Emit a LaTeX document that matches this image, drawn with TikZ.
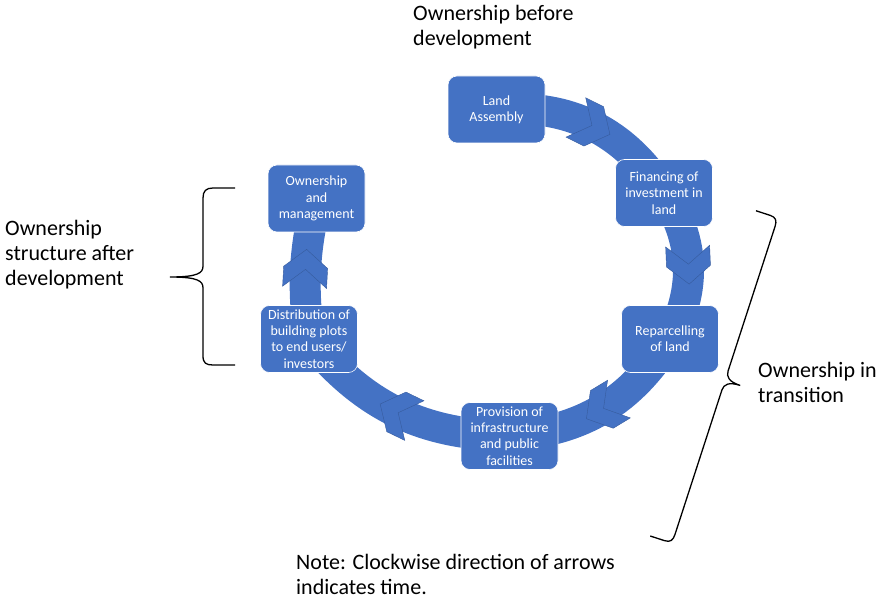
\documentclass[tikz,border=0pt]{standalone}
\usepackage{fontspec}
\setmainfont{Carlito}
\usetikzlibrary{backgrounds,decorations.markings}
\definecolor{ringblue}{RGB}{68,114,196}

\begin{document}
\begin{tikzpicture}[x=1pt, y=1pt,
    stage/.style={rectangle, rounded corners=9pt, fill=ringblue, draw=white, line width=0.6pt,
        minimum width=97pt, minimum height=67pt, inner sep=1pt, text=white, align=center,
        font=\fontsize{14}{16.3}\selectfont},
    chevron/.style={fill=ringblue, draw=ringblue!80!black, line width=0.4pt, line join=miter},
    band/.style={draw=ringblue, line width=31pt, postaction={decorate},
        decoration={markings, mark=at position 0.5 with
            {\filldraw[chevron] (-19,22) -- (1,22) -- (19,0) -- (1,-22) -- (-19,-22) -- (-1,0) -- cycle;}}},
    remark/.style={anchor=north west, inner sep=0pt, align=left, font=\fontsize{22}{25}\selectfont},
    curly/.style={draw=black, line width=1.3pt}]
    \useasboundingbox (0,0) rectangle (877,-601);

    % Stages
    \node[stage] (land)  at (496.5,-109.5) {Land\\Assembly};
    \node[stage] (fin)   at (664,-193) {Financing of\\investment in\\land};
    \node[stage] (repar) at (670,-339) {Reparcelling\\of land};
    \node[stage] (prov)  at (509.5,-436) {Provision of\\infrastructure\\and public\\facilities};
    \node[stage] (distr) at (309,-339) {Distribution of\\building plots\\to end users/\\investors};
    \node[stage] (owner) at (316.5,-198.5) {Ownership\\and\\management};

    % Ring, clockwise
    \begin{scope}[on background layer]
        \draw[band] (land.center) to[bend left=31] (fin.center);
        \draw[band] (fin.center) to[bend left=30] (repar.center);
        \draw[band] (repar.center) to[bend left=27] (prov.center);
        \draw[band] (prov.center) to[bend left=25] (distr.center);
        \draw[band] (distr.center) to[bend left=10] (owner.center);
    \end{scope}

    % Texts
    \node[remark] (before) at (413,-5.5) {Ownership before\\development};
    \node[remark] (after) at (5,-220) {Ownership\\structure after\\development};
    \node[remark] (transit) at (758,-362.5) {Ownership in\\transition};
    \node[remark] (note) at (296,-554) {Note: Clockwise direction of arrows\\indicates time.};

    % Braces
    \draw[curly] (235,-188) -- (213,-188) .. controls (206,-188) and (203,-191) .. (203,-198)
        -- (203,-266) .. controls (203,-273) and (198,-277) .. (170,-277)
        .. controls (198,-277) and (203,-281) .. (203,-288)
        -- (203,-356) .. controls (203,-363) and (206,-365) .. (213,-365) -- (235,-365);
    \begin{scope}[shift={(725,-380.5)}, rotate=-18]
        \draw[curly] (-23,171) -- (-8,171) .. controls (-2,171) and (0,168) .. (0,162)
            -- (0,10) .. controls (0,4) and (4,0) .. (16,0)
            .. controls (4,0) and (0,-4) .. (0,-10)
            -- (0,-162) .. controls (0,-168) and (-2,-171) .. (-8,-171) -- (-23,-171);
    \end{scope}
\end{tikzpicture}
\end{document}
